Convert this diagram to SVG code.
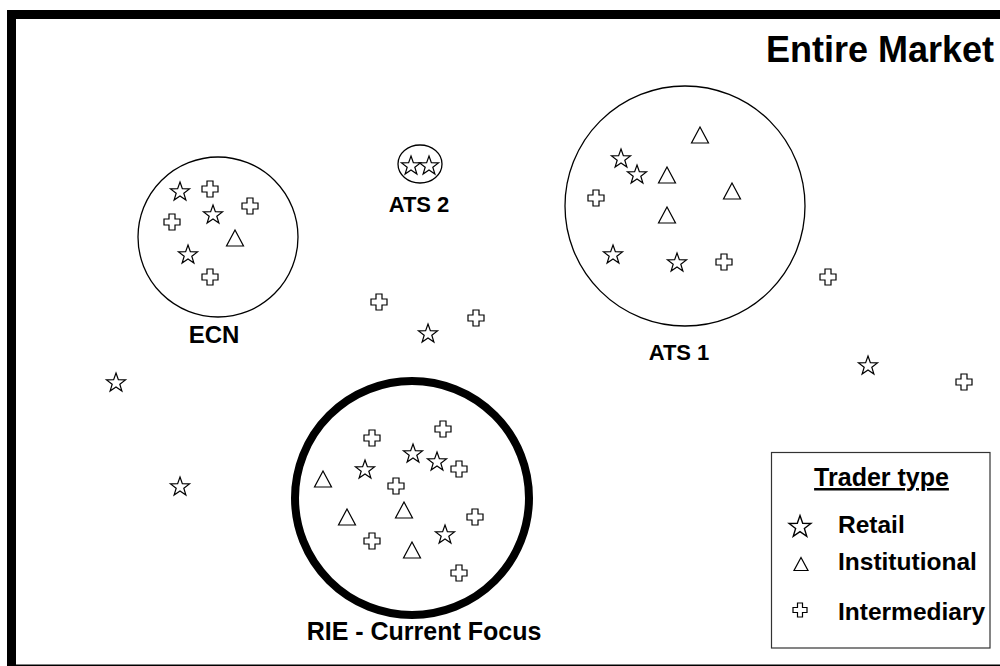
<svg xmlns="http://www.w3.org/2000/svg" xmlns:xlink="http://www.w3.org/1999/xlink" width="1000" height="666" viewBox="0 0 1000 666">
<style>
  .lbl { font-family: "Liberation Sans", Arial, sans-serif; font-weight: bold; fill: #000; }
  .sym { fill: #fff; stroke: #000; stroke-width: 1.2; stroke-linejoin: miter; }
  .ring { fill: none; stroke: #000; stroke-width: 1.3; }
</style>
<defs>
  <path id="star" class="sym" d="M0,-10 L2.35,-3.24 L9.51,-3.09 L3.8,1.24 L5.88,8.09 L0,4 L-5.88,8.09 L-3.8,1.24 L-9.51,-3.09 L-2.35,-3.24 Z"/>
  <path id="tri" class="sym" d="M0,-8 L8.5,8 L-8.5,8 Z"/>
  <path id="cross" class="sym" d="M-3,-8 H3 V-3 H8 V3 H3 V8 H-3 V3 H-8 V-3 H-3 Z"/>
</defs>
<rect width="1000" height="666" fill="#fff"/>
<g id="market">
  <rect x="11.5" y="14.5" width="1000" height="654.5" fill="none" stroke="#000" stroke-width="9"/>
  <text class="lbl" x="994" y="62" font-size="36" text-anchor="end">Entire Market</text>
</g>
<g id="ecn">
  <circle class="ring" cx="218" cy="237" r="80"/>
  <use href="#star" x="180" y="192"/>
  <use href="#cross" x="210" y="189"/>
  <use href="#cross" x="250" y="206"/>
  <use href="#cross" x="172" y="222"/>
  <use href="#star" x="213" y="215"/>
  <use href="#tri" x="235" y="238"/>
  <use href="#star" x="188" y="255"/>
  <use href="#cross" x="210" y="277"/>
  <text class="lbl" x="214" y="343" font-size="24" text-anchor="middle">ECN</text>
</g>
<g id="ats2">
  <ellipse class="ring" cx="420" cy="164" rx="22" ry="19"/>
  <use href="#star" x="411" y="166"/>
  <use href="#star" x="429" y="166"/>
  <text class="lbl" x="419" y="212" font-size="22" text-anchor="middle">ATS 2</text>
</g>
<g id="ats1">
  <circle class="ring" cx="685" cy="206" r="120"/>
  <use href="#tri" x="700" y="135"/>
  <use href="#star" x="621" y="159"/>
  <use href="#star" x="637" y="175"/>
  <use href="#tri" x="667" y="175"/>
  <use href="#tri" x="732" y="191"/>
  <use href="#cross" x="596" y="198"/>
  <use href="#tri" x="667" y="215"/>
  <use href="#star" x="613" y="255"/>
  <use href="#star" x="677" y="263"/>
  <use href="#cross" x="724" y="262"/>
  <text class="lbl" x="679" y="360" font-size="22" text-anchor="middle">ATS 1</text>
</g>
<g id="rie">
  <circle cx="412" cy="498" r="117" fill="none" stroke="#000" stroke-width="8"/>
  <use href="#cross" x="372" y="438"/>
  <use href="#cross" x="443" y="429"/>
  <use href="#star" x="413" y="454"/>
  <use href="#star" x="437" y="462"/>
  <use href="#cross" x="459" y="469"/>
  <use href="#star" x="365" y="470"/>
  <use href="#tri" x="323" y="479"/>
  <use href="#cross" x="396" y="486"/>
  <use href="#tri" x="404" y="510"/>
  <use href="#tri" x="347" y="517"/>
  <use href="#cross" x="475" y="517"/>
  <use href="#cross" x="372" y="541"/>
  <use href="#star" x="445" y="535"/>
  <use href="#tri" x="412" y="550"/>
  <use href="#cross" x="459" y="573"/>
  <text class="lbl" x="424" y="640" font-size="25" text-anchor="middle">RIE - Current Focus</text>
</g>
<g id="unaffiliated">
  <use href="#cross" x="828" y="277"/>
  <use href="#star" x="868" y="366"/>
  <use href="#cross" x="964" y="382"/>
  <use href="#cross" x="379" y="302"/>
  <use href="#cross" x="476" y="318"/>
  <use href="#star" x="428" y="334"/>
  <use href="#star" x="116" y="383"/>
  <use href="#star" x="180" y="487"/>
</g>
<g id="legend">
  <rect x="771.5" y="452.5" width="218.5" height="195.5" fill="#fff" stroke="#333" stroke-width="1.2"/>
  <text class="lbl" x="881.5" y="486" font-size="25" text-anchor="middle" text-decoration="underline">Trader type</text>
  <path class="sym" stroke-width="1" transform="translate(800,527) scale(1.15)" d="M0,-10 L2.35,-3.24 L9.51,-3.09 L3.8,1.24 L5.88,8.09 L0,4 L-5.88,8.09 L-3.8,1.24 L-9.51,-3.09 L-2.35,-3.24 Z"/>
  <path class="sym" stroke-width="1" transform="translate(801,564)" d="M0,-6.5 L7,6.5 L-7,6.5 Z"/>
  <path class="sym" stroke-width="1" transform="translate(800,610)" d="M-2.5,-7 H2.5 V-2.5 H7 V2.5 H2.5 V7 H-2.5 V2.5 H-7 V-2.5 H-2.5 Z"/>
  <text class="lbl" x="838" y="533" font-size="24.5">Retail</text>
  <text class="lbl" x="838" y="570" font-size="24.5">Institutional</text>
  <text class="lbl" x="838" y="620" font-size="24.5">Intermediary</text>
</g>
</svg>
